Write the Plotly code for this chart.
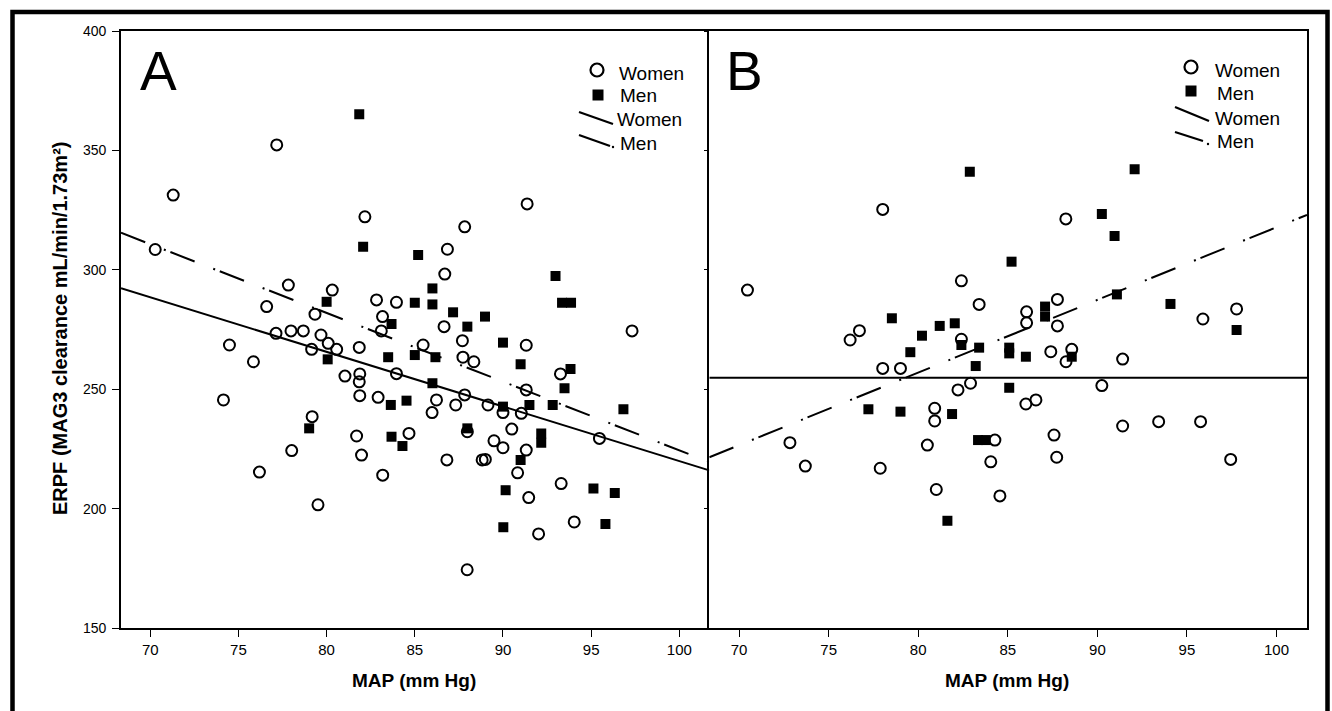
import plotly.graph_objects as go

# ---------------- data ----------------
A_women_x = [71.3, 77.17, 82.17, 70.28, 77.83, 80.32, 76.6, 82.83, 83.96, 79.34, 83.17, 83.1, 77.13, 77.98,
             78.68, 79.68, 80.09, 80.57, 79.15, 81.85, 74.49, 75.85, 83.96, 81.04, 81.88, 81.85, 74.15, 81.88,
             82.92, 79.18, 81.7, 78.02, 81.98, 76.19, 83.18, 79.51, 86.82, 88.82, 89.0, 90.83, 91.46, 93.3,
             92.02, 94.04, 87.97, 91.37, 87.83, 86.85, 86.7, 86.66, 97.32, 87.7, 91.32, 85.47, 87.73, 88.35,
             93.26, 91.32, 87.83, 86.23, 87.32, 85.98, 89.15, 90.0, 91.04, 95.47, 84.67, 87.98, 90.5, 89.49,
             90.0, 91.32]
A_women_y = [331.3, 352.3, 322.2, 308.5, 293.6, 291.5, 284.6, 287.4, 286.4, 281.4, 280.4, 274.4, 273.4, 274.4,
             274.4, 272.7, 269.2, 266.7, 266.7, 267.5, 268.5, 261.5, 256.5, 255.5, 256.4, 253.1, 245.5, 247.3,
             246.6, 238.5, 230.4, 224.3, 222.4, 215.3, 214.0, 201.6, 220.4, 220.4, 220.6, 215.0, 204.6, 210.5,
             189.4, 194.4, 174.4, 327.6, 318.0, 308.6, 298.2, 276.2, 274.4, 270.3, 268.4, 268.5, 263.4, 261.5,
             256.4, 249.7, 247.6, 245.5, 243.4, 240.2, 243.4, 240.2, 239.9, 229.4, 231.5, 232.2, 233.3, 228.4,
             225.5, 224.5]
A_men_x = [81.85, 82.07, 80.0, 83.68, 80.06, 83.49, 83.64, 79.01, 83.68, 91.0, 90.15, 95.13, 96.34, 90.02,
           95.81, 85.19, 92.98, 86.0, 85.0, 86.0, 93.35, 93.86, 87.17, 88.98, 87.98, 90.0, 85.0, 86.17, 91.0,
           93.83, 86.0, 93.49, 84.53, 90.0, 91.5, 92.82, 96.83, 84.3, 87.98, 92.17, 92.17]
A_men_y = [365.1, 309.7, 286.6, 277.3, 262.5, 263.4, 243.4, 233.6, 230.1, 220.3, 207.7, 208.4, 206.5, 192.2,
           193.6, 306.2, 297.4, 292.2, 286.2, 285.5, 286.2, 286.2, 282.2, 280.4, 276.2, 269.5, 264.3, 263.4,
           260.4, 258.5, 252.5, 250.4, 245.2, 242.7, 243.4, 243.4, 241.6, 226.2, 233.6, 231.5, 227.6]

B_women_x = [78.02, 88.24, 70.47, 82.41, 83.4, 86.05, 86.05, 76.72, 76.2, 82.41, 78.02, 79.01, 82.92, 82.22,
             86.01, 80.92, 80.92, 84.28, 72.84, 80.51, 84.05, 73.7, 77.88, 81.01, 84.56, 87.77, 87.77, 95.89,
             97.77, 87.4, 88.57, 88.25, 91.41, 90.25, 86.57, 91.41, 93.42, 95.76, 87.58, 87.73, 97.44]
B_women_y = [325.3, 321.3, 291.5, 295.4, 285.5, 282.4, 277.8, 274.5, 270.6, 270.9, 258.7, 258.7, 252.5, 249.7,
             243.8, 242.0, 236.7, 228.7, 227.6, 226.6, 219.6, 217.8, 216.9, 208.0, 205.3, 287.6, 276.5, 279.4,
             283.6, 265.7, 266.7, 261.5, 262.6, 251.5, 245.5, 234.6, 236.4, 236.4, 230.8, 221.5, 220.6]
B_men_x = [82.88, 92.08, 90.25, 90.96, 85.21, 78.53, 81.2, 82.04, 80.21, 82.41, 83.4, 79.56, 85.08, 85.08,
           86.01, 83.21, 85.08, 77.22, 79.01, 81.89, 83.34, 83.77, 87.08, 87.08, 91.09, 94.08, 97.77, 88.57, 81.63]
B_men_y = [341.1, 342.1, 323.4, 314.2, 303.4, 279.7, 276.5, 277.6, 272.4, 268.5, 267.4, 265.5, 267.4, 265.0,
           263.6, 259.7, 250.6, 241.6, 240.6, 239.6, 228.7, 228.7, 284.6, 280.4, 289.7, 285.7, 274.8, 263.6, 194.9]

# regression (fit) line end points
fit_x = [68.34, 101.7]
A_fit_women_y = [292.3, 216.0]
A_fit_men_y = [315.5, 219.5]
B_fit_women_y = [254.8, 254.8]
B_fit_men_y = [221.5, 323.0]

x_ticks = [70, 75, 80, 85, 90, 95, 100]
y_ticks = [150, 200, 250, 300, 350, 400]
legend_labels = ["Women", "Men", "Women", "Men"]
panel_labels = ["A", "B"]
x_title = "MAP (mm Hg)"
y_title = "ERPF (MAG3 clearance mL/min/1.73m²)"

# ---------------- layout geometry (pixels) ----------------
W, H = 1332, 711
ML, MR, MT, MB = 121, 25, 31, 83
PW, PH = W - ML - MR, H - MT - MB
SPLIT = 709.3


def px(x):
    return (x - ML) / PW


def py(y):
    return (MT + PH - y) / PH


FONT = "Arial, Liberation Sans, sans-serif"
DASHDOT = "26px,20px,2px,5px"

fig = go.Figure()

circle_marker = dict(symbol="circle-open", size=11, color="black", line=dict(width=2, color="black"))
square_marker = dict(symbol="square", size=10, color="black", line=dict(width=0))

for xa, ya, wx, wy, mx, my, fw, fm in [
    ("x", "y", A_women_x, A_women_y, A_men_x, A_men_y, A_fit_women_y, A_fit_men_y),
    ("x2", "y2", B_women_x, B_women_y, B_men_x, B_men_y, B_fit_women_y, B_fit_men_y),
]:
    fig.add_trace(go.Scatter(x=fit_x, y=fw, mode="lines", line=dict(color="black", width=2),
                             xaxis=xa, yaxis=ya, showlegend=False, name="Women fit"))
    fig.add_trace(go.Scatter(x=fit_x, y=fm, mode="lines", line=dict(color="black", width=2, dash=DASHDOT),
                             xaxis=xa, yaxis=ya, showlegend=False, name="Men fit"))
    fig.add_trace(go.Scatter(x=wx, y=wy, mode="markers", marker=circle_marker,
                             xaxis=xa, yaxis=ya, showlegend=False, name="Women"))
    fig.add_trace(go.Scatter(x=mx, y=my, mode="markers", marker=square_marker,
                             xaxis=xa, yaxis=ya, showlegend=False, name="Men"))

split_p = px(SPLIT)
axis_common = dict(showgrid=False, zeroline=False, showline=True, linecolor="black", linewidth=1.6,
                   ticks="outside", tickcolor="black", ticklen=7, tickwidth=1.3)

fig.update_layout(
    width=W, height=H,
    margin=dict(l=ML, r=MR, t=MT, b=MB),
    paper_bgcolor="white", plot_bgcolor="white",
    font=dict(family=FONT, color="black"),
    xaxis=dict(domain=[0, split_p], range=fit_x, tickvals=x_ticks, anchor="y", mirror=True,
               tickfont=dict(size=15, family=FONT), **axis_common),
    yaxis=dict(domain=[0, 1], range=[150, 400], tickvals=y_ticks, anchor="x", mirror=False,
               tickfont=dict(size=14, family=FONT), ticklabelstandoff=3, **axis_common),
    xaxis2=dict(domain=[split_p, 1], range=fit_x, tickvals=x_ticks, anchor="y2", mirror=True,
                tickfont=dict(size=15, family=FONT), **axis_common),
    yaxis2=dict(domain=[0, 1], range=[150, 400], tickvals=y_ticks, anchor="x2", mirror=True,
                showticklabels=False, **{**axis_common, "ticklen": 4}),
)

annotations = []
shapes = []

# panel letters
for lab, xp in zip(panel_labels, [138, 724]):
    annotations.append(dict(text=lab, x=px(xp), y=py(71), xref="paper", yref="paper",
                            xanchor="left", yanchor="middle", showarrow=False,
                            font=dict(size=55, family=FONT)))

# axis titles
for xc in [414, 1007]:
    annotations.append(dict(text="<b>" + x_title + "</b>", x=px(xc), y=py(680), xref="paper", yref="paper",
                            xanchor="center", yanchor="middle", showarrow=False,
                            font=dict(size=19, family=FONT)))
annotations.append(dict(text="<b>" + y_title + "</b>", x=px(60), y=py(329), xref="paper", yref="paper",
                        xanchor="center", yanchor="middle", showarrow=False, textangle=-90,
                        font=dict(size=20, family=FONT)))

# legends (drawn inside each panel)
legend_pos = [
    dict(circ=(597, 70), sq=(598, 95), solid=((579, 112), (613, 124)), dd=((579, 135), (610, 146)),
         dot=(613, 147), tx=[617, 618, 615, 618], ty=[73.4, 95.4, 119.4, 143.4]),
    dict(circ=(1191, 67), sq=(1191, 91), solid=((1175, 107), (1209, 121)), dd=((1175, 132), (1203, 141)),
         dot=(1208, 144), tx=[1213, 1215, 1213, 1215], ty=[70.4, 93.4, 118.4, 141.4]),
]
for lp in legend_pos:
    cx, cy = lp["circ"]
    r = 6.5
    shapes.append(dict(type="circle", xref="paper", yref="paper", x0=px(cx - r), x1=px(cx + r),
                       y0=py(cy + r), y1=py(cy - r), line=dict(color="black", width=2.2)))
    sx, sy = lp["sq"]
    s = 5.5
    shapes.append(dict(type="rect", xref="paper", yref="paper", x0=px(sx - s), x1=px(sx + s),
                       y0=py(sy + s), y1=py(sy - s), line=dict(width=0), fillcolor="black"))
    (x0, y0), (x1, y1) = lp["solid"]
    shapes.append(dict(type="line", xref="paper", yref="paper", x0=px(x0), y0=py(y0), x1=px(x1), y1=py(y1),
                       line=dict(color="black", width=2.2)))
    (x0, y0), (x1, y1) = lp["dd"]
    shapes.append(dict(type="line", xref="paper", yref="paper", x0=px(x0), y0=py(y0), x1=px(x1), y1=py(y1),
                       line=dict(color="black", width=2.2)))
    dx, dy = lp["dot"]
    shapes.append(dict(type="circle", xref="paper", yref="paper", x0=px(dx - 1.2), x1=px(dx + 1.2),
                       y0=py(dy + 1.2), y1=py(dy - 1.2), line=dict(width=0), fillcolor="black"))
    for lab, tx, ty in zip(legend_labels, lp["tx"], lp["ty"]):
        annotations.append(dict(text=lab, x=px(tx), y=py(ty), xref="paper", yref="paper",
                                xanchor="left", yanchor="middle", showarrow=False,
                                font=dict(size=19, family=FONT)))

# outer thick frame
shapes.append(dict(type="rect", xref="paper", yref="paper", x0=px(12.5), x1=px(1327.5), y0=py(745), y1=py(12),
                   line=dict(color="black", width=4.5), fillcolor="rgba(0,0,0,0)", layer="above"))

fig.update_layout(annotations=annotations, shapes=shapes)
fig.write_html("out.html", config={"displayModeBar": False},
               post_script="document.body.style.margin='0';document.body.style.overflow='hidden';")
